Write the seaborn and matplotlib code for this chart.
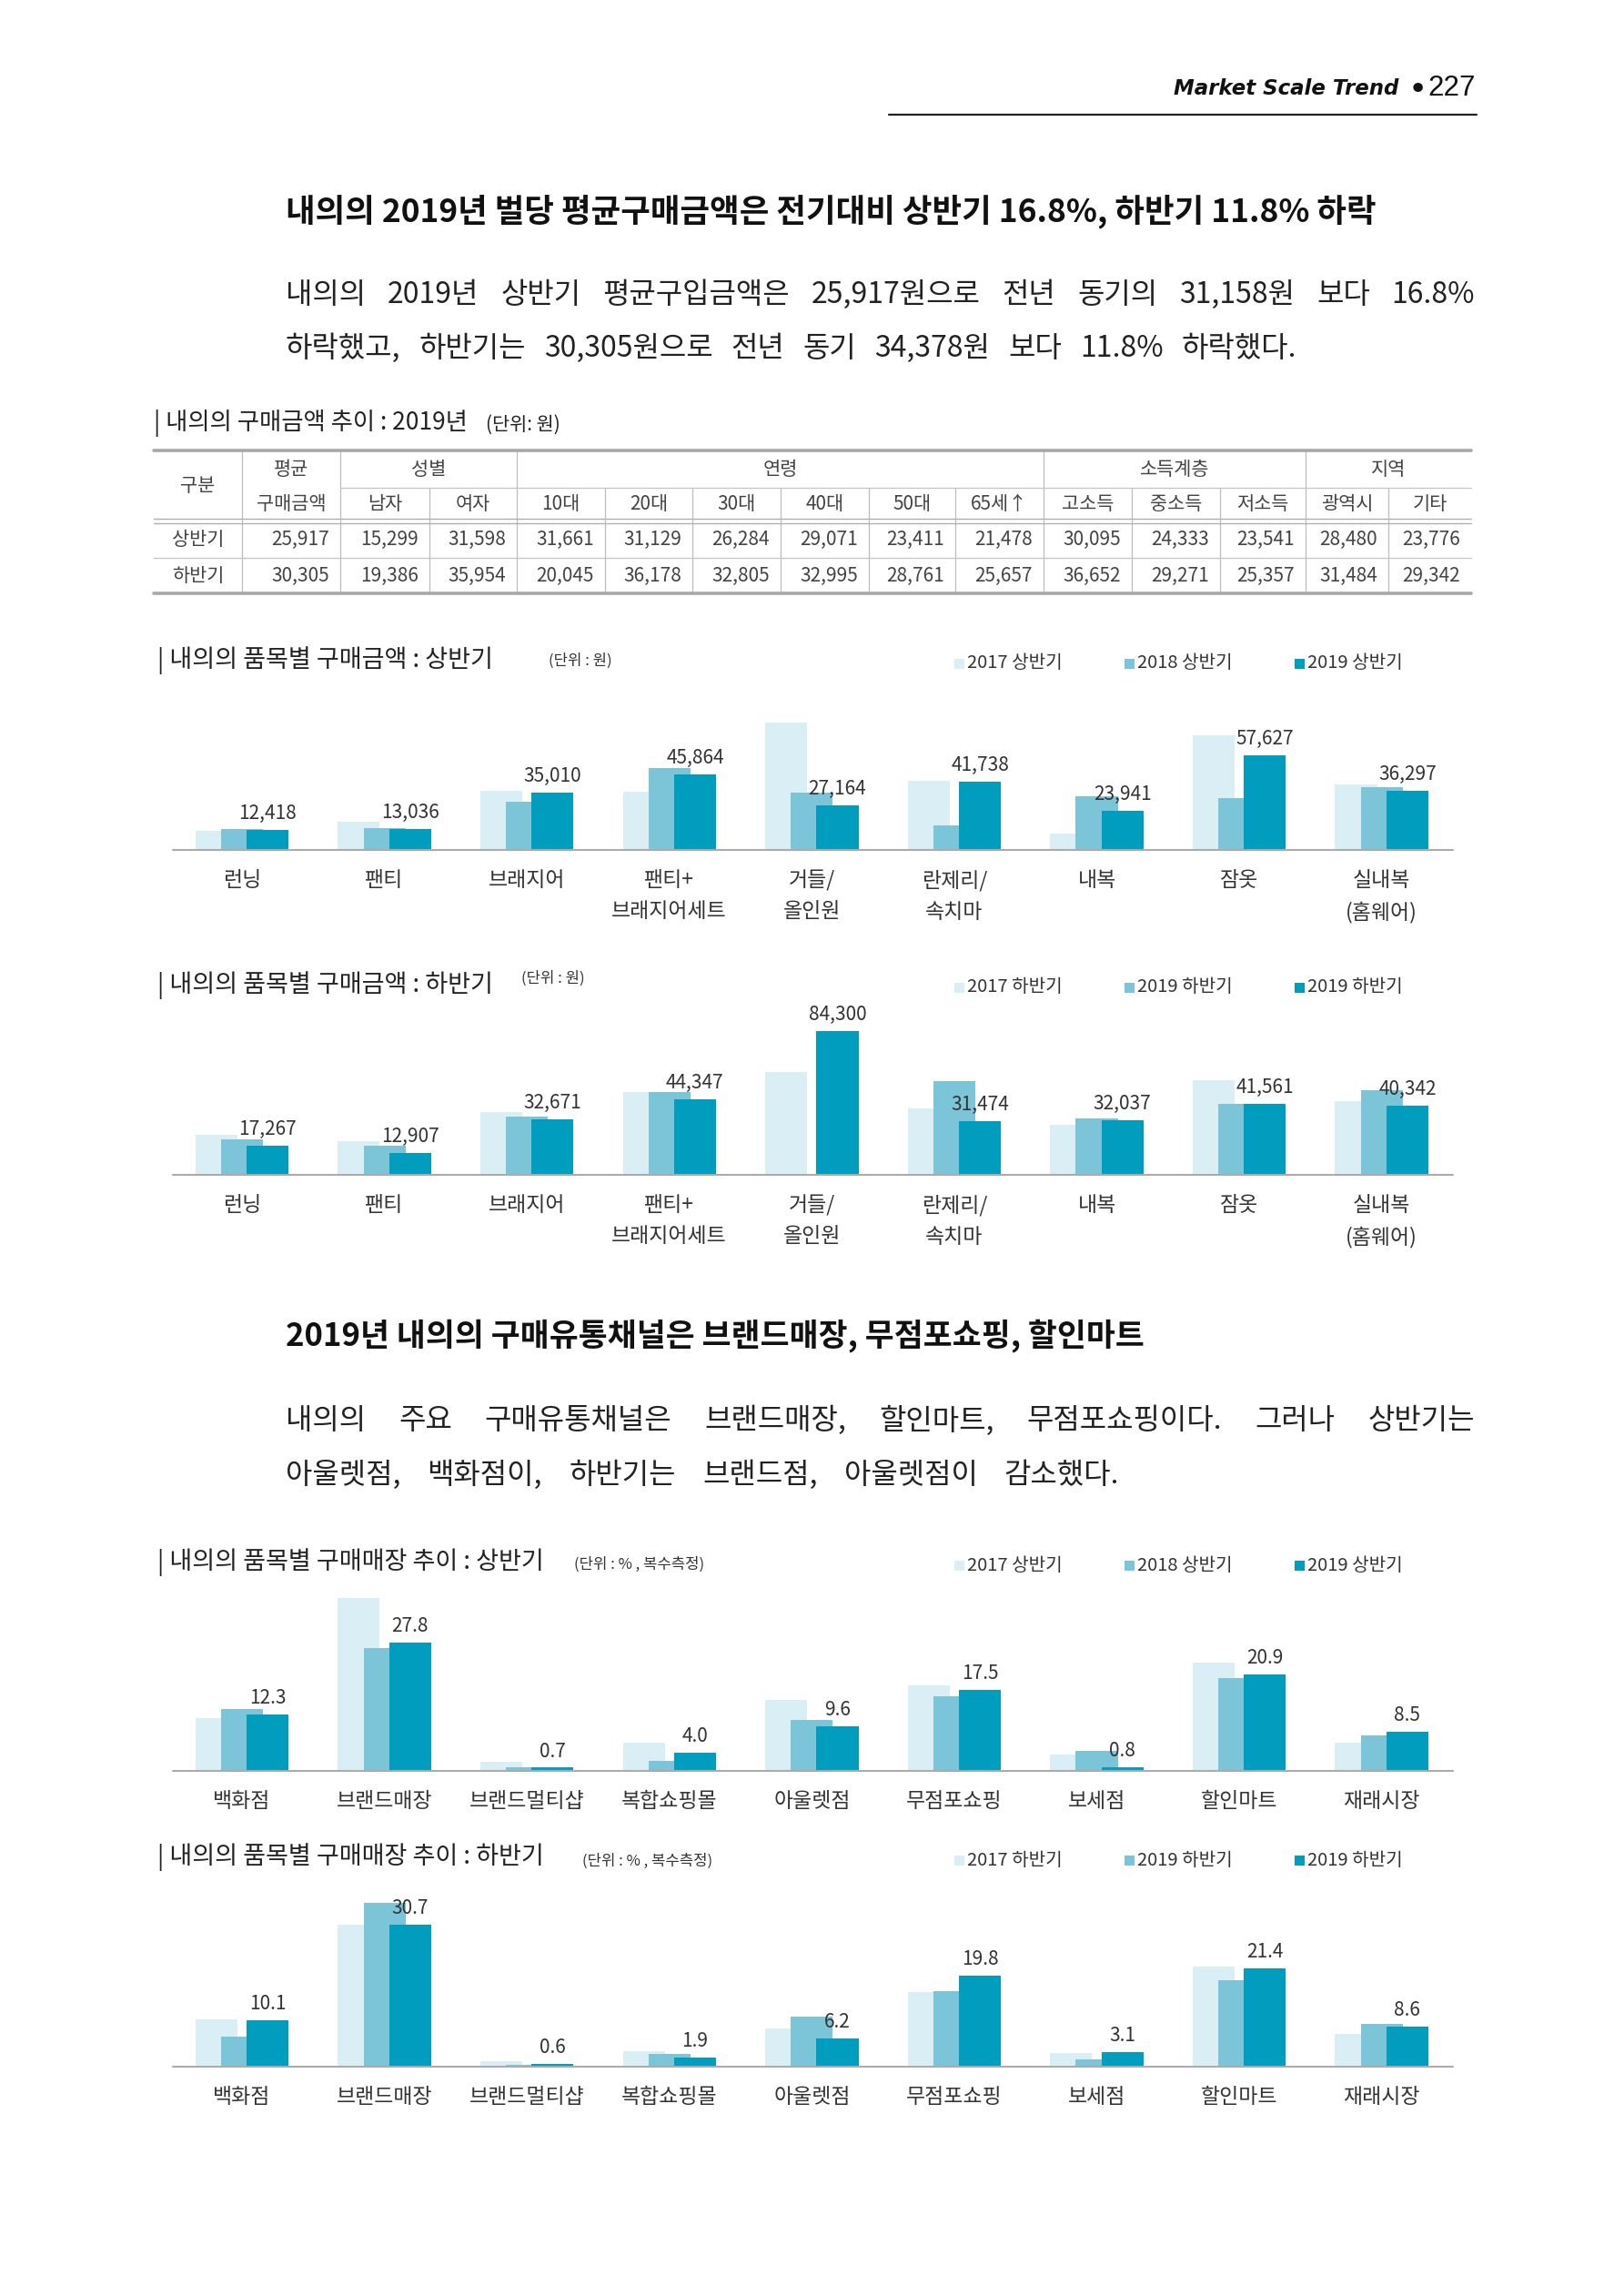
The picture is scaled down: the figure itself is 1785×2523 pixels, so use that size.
import numpy as np
import pandas as pd
import seaborn as sns
import matplotlib.pyplot as plt
from matplotlib.patches import Rectangle

sns.set_theme(style="white")
plt.rcParams['font.family'] = ['Noto Sans CJK KR', 'DejaVu Sans']

# ---------------- data ----------------
items = ['런닝', '팬티', '브래지어', '팬티+\n브래지어세트', '거들/\n올인원',
         '란제리/\n속치마', '내복', '잠옷', '실내복\n(홈웨어)']
amt_h1_2017 = [11530, 17480, 36080, 35530, 77930, 42040, 10230, 70120, 39800]
amt_h1_2018 = [13020, 13580, 29200, 49850, 35150, 14880, 32920, 31810, 38130]
amt_h1_2019 = [12418, 13036, 35010, 45864, 27164, 41738, 23941, 57627, 36297]
amt_h2_2017 = [23610, 19530, 36740, 48280, 60170, 39050, 29290, 55380, 43130]
amt_h2_2018 = [20950, 16860, 33900, 48280, np.nan, 54670, 33190, 41710, 49520]
amt_h2_2019 = [17267, 12907, 32671, 44347, 84300, 31474, 32037, 41561, 40342]

stores = ['백화점', '브랜드매장', '브랜드멀티샵', '복합쇼핑몰', '아울렛점',
          '무점포쇼핑', '보세점', '할인마트', '재래시장']
shop_h1_2017 = [11.4, 37.5, 2.0, 6.1, 15.4, 18.5, 3.6, 23.4, 6.1]
shop_h1_2018 = [13.4, 26.7, 0.7, 2.2, 11.1, 16.2, 4.3, 20.2, 7.6]
shop_h1_2019 = [12.3, 27.8, 0.7, 4.0, 9.6, 17.5, 0.8, 20.9, 8.5]
shop_h2_2017 = [10.3, 30.7, 1.1, 3.4, 8.2, 16.2, 2.9, 21.7, 7.1]
shop_h2_2018 = [6.6, 35.5, 0.4, 2.8, 10.8, 16.4, 1.6, 18.7, 9.3]
shop_h2_2019 = [10.1, 30.7, 0.6, 1.9, 6.2, 19.8, 3.1, 21.4, 8.6]

legend_h1 = ['2017 상반기', '2018 상반기', '2019 상반기']
legend_h2 = ['2017 하반기', '2019 하반기', '2019 하반기']

tbl_groups = [('성별', 2), ('연령', 6), ('소득계층', 3), ('지역', 2)]
tbl_cols = ['남자', '여자', '10대', '20대', '30대', '40대', '50대', '65세↑',
            '고소득', '중소득', '저소득', '광역시', '기타']
tbl_rows = ['상반기', '하반기']
tbl_avg = [25917, 30305]
tbl_h1 = [15299, 31598, 31661, 31129, 26284, 29071, 23411, 21478, 30095, 24333, 23541, 28480, 23776]
tbl_h2 = [19386, 35954, 20045, 36178, 32805, 32995, 28761, 25657, 36652, 29271, 25357, 31484, 29342]

heading1 = '내의의 2019년 벌당 평균구매금액은 전기대비 상반기 16.8%, 하반기 11.8% 하락'
para1 = ['내의의 2019년 상반기 평균구입금액은 25,917원으로 전년 동기의 31,158원 보다 16.8%',
         '하락했고, 하반기는 30,305원으로 전년 동기 34,378원 보다 11.8% 하락했다.']
heading2 = '2019년 내의의 구매유통채널은 브랜드매장, 무점포쇼핑, 할인마트'
para2 = ['내의의 주요 구매유통채널은 브랜드매장, 할인마트, 무점포쇼핑이다. 그러나 상반기는',
         '아울렛점, 백화점이, 하반기는 브랜드점, 아울렛점이 감소했다.']

colors = ['#d9eef5', '#7cc5d9', '#009dbf']
offsets = [-0.18, 0.0, 0.18]

W, H = 1785, 2523
fig = plt.figure(figsize=(W / 100, H / 100), dpi=100)
fig.patch.set_facecolor('white')
page = fig.add_axes([0, 0, 1, 1])
page.set_xlim(0, W)
page.set_ylim(H, 0)
page.axis('off')
rend = fig.canvas.get_renderer()


def justify(line, x0, x1, y, size=23):
    words = line.split(' ')
    ts = [page.text(0, y, w, fontsize=size, va='center', color='#222') for w in words]
    ws = [t.get_window_extent(rend).width for t in ts]
    gap = (x1 - x0 - sum(ws)) / (len(words) - 1)
    x = x0
    for t, w in zip(ts, ws):
        t.set_x(x)
        x += w + gap


# header
page.text(1537, 97, 'Market Scale Trend', ha='right', va='center', fontsize=16.5,
          family='DejaVu Sans', style='italic', weight='bold', color='#111')
page.text(1558, 99, '•', ha='center', va='center', fontsize=26, family='DejaVu Sans', color='#111')
page.text(1622, 97, '227', ha='right', va='center', fontsize=22.5, family='Liberation Sans', color='#111')
page.plot([977, 1623], [126, 126], color='#222', lw=1.6)

# heading + paragraph 1
page.text(314, 232, heading1, fontsize=25.5, weight='bold', va='center', color='#111')
justify(para1[0], 314, 1621, 324)
justify(para1[1], 314, 1425, 383)

# table
page.text(169, 465, '| 내의의 구매금액 추이 : 2019년', fontsize=19, va='center', color='#222')
page.text(534, 467, '(단위: 원)', fontsize=15, va='center', color='#222')

cx = [169, 266, 374, 472, 568, 665, 761, 858, 955, 1050, 1147, 1244, 1341, 1435, 1526, 1617]
y_top, y_mid, y_dbl, y_row, y_bot = 495, 536, 572, 613, 652
full_v = {266, 374, 568, 1147, 1435}
for x in cx[1:-1]:
    page.plot([x, x], [y_top if x in full_v else y_mid, y_bot], color='#bdbdbd', lw=0.9)
page.plot([cx[0], cx[-1]], [y_top, y_top], color='#a8a8a8', lw=2.6)
page.plot([cx[0], cx[-1]], [y_bot, y_bot], color='#a8a8a8', lw=2.6)
page.plot([cx[2], cx[-1]], [y_mid, y_mid], color='#c4c4c4', lw=0.9)
page.plot([cx[0], cx[-1]], [y_dbl - 2.5, y_dbl - 2.5], color='#b0b0b0', lw=1.0)
page.plot([cx[0], cx[-1]], [y_dbl + 2.5, y_dbl + 2.5], color='#b0b0b0', lw=1.0)
page.plot([cx[0], cx[-1]], [y_row, y_row], color='#c4c4c4', lw=0.9)

tkw = dict(fontsize=15, va='center', color='#444')
page.text((cx[0] + cx[1]) / 2, 534, '구분', ha='center', **tkw)
page.text((cx[1] + cx[2]) / 2, 516, '평균', ha='center', **tkw)
page.text((cx[1] + cx[2]) / 2, 554, '구매금액', ha='center', **tkw)
c = 2
for name, n in tbl_groups:
    page.text((cx[c] + cx[c + n]) / 2, 516, name, ha='center', **tkw)
    c += n
for j, name in enumerate(tbl_cols):
    page.text((cx[j + 2] + cx[j + 3]) / 2, 554, name, ha='center', **tkw)
for r, (rname, avg, vals) in enumerate(zip(tbl_rows, tbl_avg, [tbl_h1, tbl_h2])):
    y = 593 + r * 40
    page.text((cx[0] + cx[1]) / 2, y, rname, ha='center', **tkw)
    for j, v in enumerate([avg] + vals):
        page.text(cx[j + 2] - 12, y, f'{v:,}', ha='right', **tkw)


def chart_head(ty, title, unit, ux, uy, labels, ly):
    page.text(173, ty, title, fontsize=19.5, va='center', color='#222')
    page.text(ux, uy, unit, fontsize=12, va='center', color='#333')
    for i, (lab, col) in enumerate(zip(labels, colors)):
        x = 1049 + i * 187
        page.add_patch(Rectangle((x, ly - 5.5), 11, 11, color=col, lw=0))
        page.text(x + 14, ly, lab, fontsize=14.5, va='center', color='#333')


def bar_chart(top, bottom, cats, series, ymax, fmt):
    left, right = 190, 1597
    ax = fig.add_axes([left / W, 1 - bottom / H, (right - left) / W, (bottom - top) / H])
    idx = np.arange(len(cats))
    for vals, off, col in zip(series, offsets, colors):
        df = pd.DataFrame({'pos': idx + off, 'val': vals}).dropna()
        sns.barplot(data=df, x='pos', y='val', native_scale=True, width=0.294,
                    color=col, saturation=1, linewidth=0, errorbar=None,
                    orient='x', ax=ax)
    for i, v in enumerate(series[-1]):
        ax.annotate(fmt(v), (i + offsets[-1], v), xytext=(0, 5), textcoords='offset points',
                    ha='center', va='bottom', fontsize=15, color='#333')
    ax.set_xlim(-0.485, 8.5)
    ax.set_ylim(0, ymax)
    ax.axhline(0, color='#ababab', lw=1.5, clip_on=False)
    ax.set_xticks(idx, cats)
    ax.tick_params(axis='x', length=0, pad=16, labelsize=16.5, labelcolor='#333')
    for lab in ax.get_xticklabels():
        lab.set_linespacing(1.6)
    ax.set_yticks([])
    ax.set_xlabel('')
    ax.set_ylabel('')
    sns.despine(ax=ax, left=True, bottom=True)
    ax.set_facecolor('none')
    return ax


won = lambda v: f'{v:,.0f}'
pct = lambda v: f'{v:.1f}'

chart_head(726, '| 내의의 품목별 구매금액 : 상반기', '(단위 : 원)', 603, 726, legend_h1, 729)
bar_chart(780, 934, items, [amt_h1_2017, amt_h1_2018, amt_h1_2019], 154 * 555, won)

chart_head(1083, '| 내의의 품목별 구매금액 : 하반기', '(단위 : 원)', 573, 1075, legend_h2, 1085)
bar_chart(1120, 1291, items, [amt_h2_2017, amt_h2_2018, amt_h2_2019], 171 * 532.5, won)

# heading + paragraph 2
page.text(314, 1468, heading2, fontsize=25, weight='bold', va='center', color='#111')
justify(para2[0], 314, 1621, 1561)
justify(para2[1], 314, 1230, 1621)

chart_head(1717, '| 내의의 품목별 구매매장 추이 : 상반기', '(단위 : % , 복수측정)', 631, 1719, legend_h1, 1720)
bar_chart(1740, 1946, stores, [shop_h1_2017, shop_h1_2018, shop_h1_2019], 206 / 5.067, pct)

chart_head(2041, '| 내의의 품목별 구매매장 추이 : 하반기', '(단위 : % , 복수측정)', 640, 2045, legend_h2, 2044)
bar_chart(2080, 2271, stores, [shop_h2_2017, shop_h2_2018, shop_h2_2019], 191 / 5.067, pct)

fig.savefig('out.png', dpi=100, facecolor='white')
